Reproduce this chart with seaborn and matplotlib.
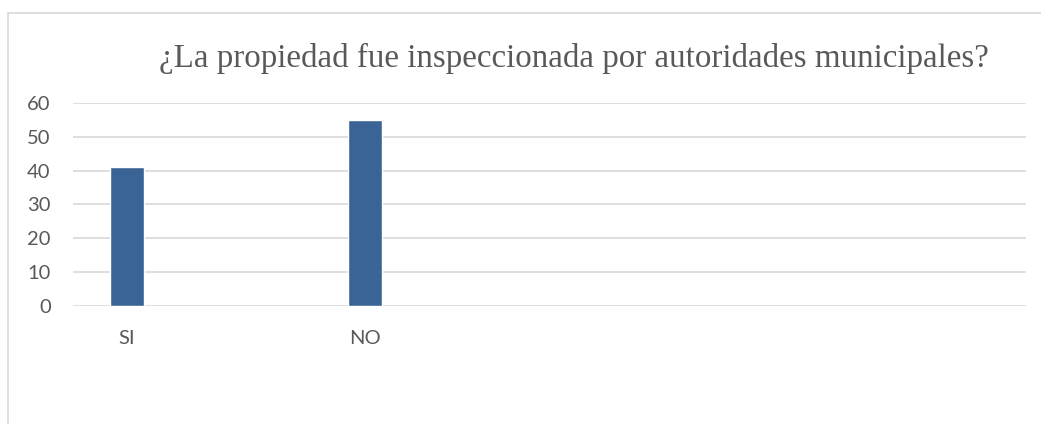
import matplotlib
matplotlib.use('Agg')
import matplotlib.pyplot as plt
import seaborn as sns
import pandas as pd
from matplotlib.patches import Rectangle

# ── Data ───────────────────────────────────────────────
categorias = ['SI', 'NO']
valores = [41, 55]
titulo = '¿La propiedad fue inspeccionada por autoridades municipales?'
y_ticks = [0, 10, 20, 30, 40, 50, 60]

df = pd.DataFrame({'respuesta': categorias, 'cantidad': valores})

sns.set_theme(style='white')
plt.rcParams['font.family'] = ['Lato', 'DejaVu Sans']

fig = plt.figure(figsize=(10.41, 4.24), dpi=100)
ax = fig.add_axes([0.0701, 0.2783, 0.9155, 0.4788])

# light frame around the chart area
fig.patches.append(Rectangle((8 / 1041, -0.1), 1.2, 1 - 13 / 424 + 0.1,
                             transform=fig.transFigure, fill=False,
                             edgecolor='#d9d9d9', linewidth=1.2))

sns.barplot(data=df, x='respuesta', y='cantidad', color='#3b6496',
            width=0.143, saturation=1, ax=ax, zorder=3)

ax.set_xlim(-0.227, 3.777)
ax.set_ylim(0, 60)
ax.set_yticks(y_ticks)
ax.yaxis.grid(True, color='#d9d9d9', linewidth=1.2, zorder=0)
ax.set_axisbelow(True)
sns.despine(ax=ax, left=True, bottom=True, top=True, right=True)

ax.set_xlabel('')
ax.set_ylabel('')
ax.tick_params(axis='both', length=0, colors='#595959', labelsize=14.5)
ax.tick_params(axis='x', pad=17)
ax.tick_params(axis='y', pad=16)

fig.text(0.551, 0.862, titulo, ha='center', va='center', color='#595959',
         fontsize=23.8, family=['Liberation Serif', 'DejaVu Serif'])

plt.savefig('out.png', dpi=100)
